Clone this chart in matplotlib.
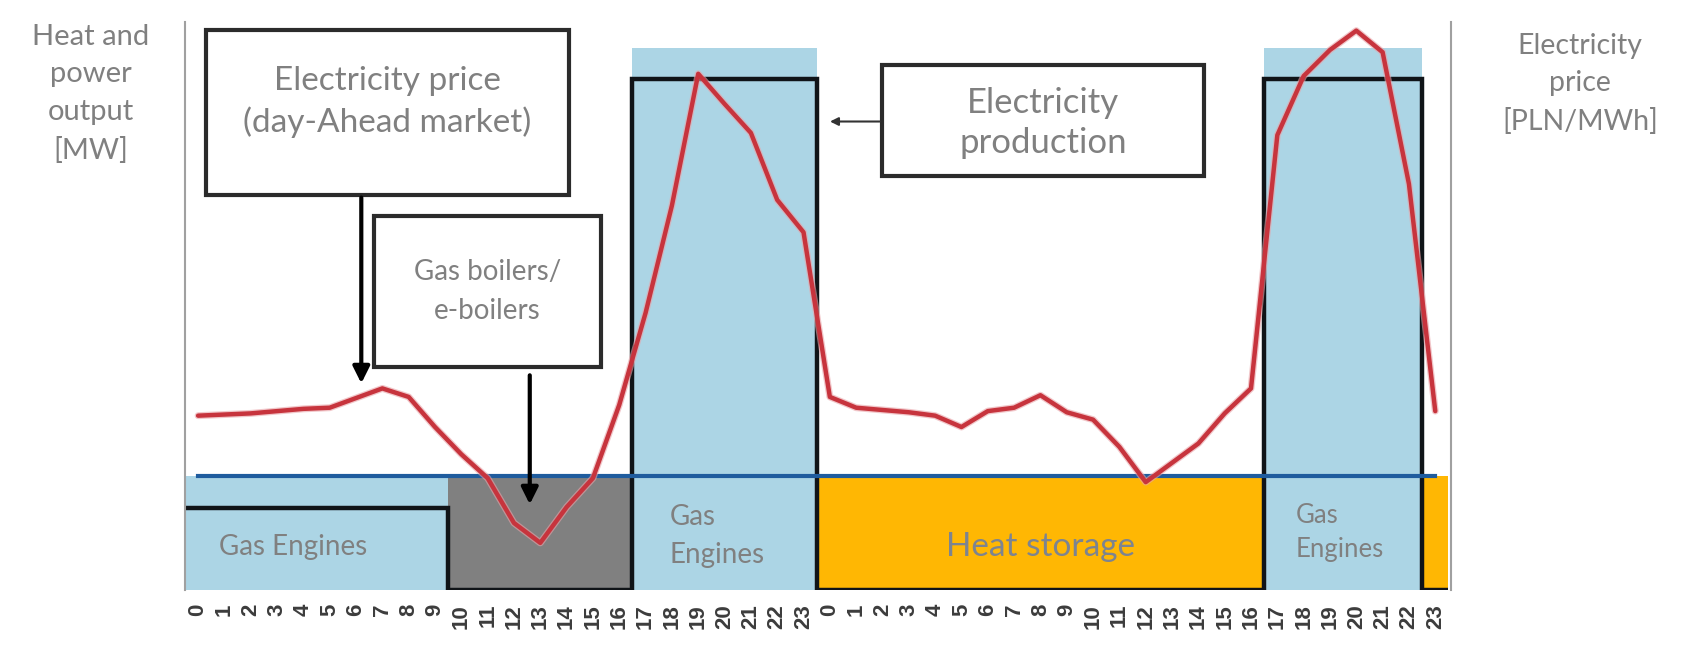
import numpy as np
import matplotlib.pyplot as plt
import matplotlib.patheffects as pe
from matplotlib.patches import Rectangle

plt.rcParams['font.family'] = ['Lato', 'DejaVu Sans']

# two days, hourly
hours = np.arange(48)
hour_labels = [str(h % 24) for h in hours]

# heat source covering the demand in each hour
heat_source = (['engines'] * 10 + ['boilers'] * 7 + ['engines'] * 7
               + ['storage'] * 17 + ['engines'] * 6 + ['storage'])
heat_demand = [20] * 48                      # MW

# gas engine output incl. power while running at full load
engine_total = [0] * 17 + [95.5] * 7 + [0] * 17 + [95.5] * 6 + [0]
# electricity production (black step)
el_production = [14.5] * 10 + [0] * 7 + [90] * 7 + [0] * 17 + [90] * 6 + [0]

# day-ahead electricity price [PLN/MWh]
price = [307, 309, 311, 315, 319, 321, 338, 355, 340, 287, 239, 197,
         118, 83, 146, 197, 326, 488, 677, 909, 856, 805, 687, 630,
         340, 321, 317, 313, 307, 287, 315, 321, 343, 313, 300, 252,
         190, 224, 258, 311, 355, 801, 905, 951, 985, 947, 715, 315]

source_colors = {'engines': '#acd5e5', 'boilers': '#808080', 'storage': '#ffb703'}
text_gray = '#808080'

fig = plt.figure(figsize=(16.92, 6.51), dpi=100)
ax = fig.add_axes([0.1093, 0.0937, 0.7483, 0.8723])

ax.bar(hours, engine_total, width=1.0, color=source_colors['engines'], linewidth=0)
ax.bar(hours, heat_demand, width=1.0, color=[source_colors[s] for s in heat_source],
       linewidth=0)
ax.plot(hours, heat_demand, color='#1f5c9e', lw=3)
ax.stairs(el_production, np.arange(-0.5, 48), baseline=None, color='#101418', lw=3.2)

ax.set_xlim(-0.5, 47.6)
ax.set_ylim(0, 100)
ax.set_xticks(hours)
ax.set_xticklabels(hour_labels, rotation=90, fontsize=16, fontweight='bold',
                   color='#3c3c3c', family=['Liberation Sans', 'DejaVu Sans'])
ax.tick_params(axis='x', length=0, pad=10)
ax.set_yticks([])
for side in ['top', 'bottom']:
    ax.spines[side].set_visible(False)
for side in ['left', 'right']:
    ax.spines[side].set_color('#a0a0a0')
    ax.spines[side].set_linewidth(1.5)

# price on the right-hand scale
ax2 = ax.twinx()
ax2.plot(hours, price, color='#c7343d', lw=3.2, solid_capstyle='round',
         solid_joinstyle='round',
         path_effects=[pe.Stroke(linewidth=5, foreground='#e9a3a8', alpha=0.6), pe.Normal()])
ax2.set_ylim(0, 1000)
ax2.set_yticks([])
for side in ['top', 'bottom', 'left', 'right']:
    ax2.spines[side].set_visible(False)

# labels inside the fills
ax.text(3.6, 7.6, 'Gas Engines', fontsize=20, color=text_gray, ha='center', va='center')
ax.text(17.9, 9.5, 'Gas\nEngines', fontsize=20, color=text_gray, ha='left', va='center',
        linespacing=1.55)
ax.text(32.0, 7.6, 'Heat storage', fontsize=24, color='#7d8490', ha='center', va='center')
ax.text(41.7, 10.2, 'Gas\nEngines', fontsize=18.5, color=text_gray, ha='left', va='center',
        linespacing=1.45)

# callout boxes (x in hours, y in price units), text offset from box centre
boxes = [
    ((0.3, 696), 13.8, 291, 'Electricity price\n(day-Ahead market)', 24, 18, 1.4),
    ((6.7, 393), 8.6, 265, 'Gas boilers/\ne-boilers', 20, 0, 1.6),
    ((26.0, 729), 12.2, 195, 'Electricity\nproduction', 25, -4, 1.3),
]
for (x0, y0), w, h, label, fs, dy, ls in boxes:
    ax2.add_patch(Rectangle((x0, y0), w, h, facecolor='white',
                            edgecolor='#2b2b2b', lw=3, zorder=5))
    ax2.text(x0 + w / 2, y0 + h / 2 + dy, label, fontsize=fs, color=text_gray,
             ha='center', va='center', linespacing=ls, zorder=6)

arrow_thick = dict(arrowstyle='-|>', color='black', lw=3, mutation_scale=25)
ax2.annotate('', xy=(6.2, 359), xytext=(6.2, 696), arrowprops=arrow_thick, zorder=7)
ax2.annotate('', xy=(12.6, 146), xytext=(12.6, 383), arrowprops=arrow_thick, zorder=7)
ax2.annotate('', xy=(23.9, 825), xytext=(26.0, 825),
             arrowprops=dict(arrowstyle='-|>', color='#333333', lw=1.5, mutation_scale=12),
             zorder=7)

fig.text(0.0536, 0.856, 'Heat and\npower\noutput\n[MW]', fontsize=21, color=text_gray,
         ha='center', va='center', linespacing=1.55)
fig.text(0.934, 0.871, 'Electricity\nprice\n[PLN/MWh]', fontsize=20.5, color=text_gray,
         ha='center', va='center', linespacing=1.55)

fig.savefig('out.png', dpi=100, facecolor='white')
